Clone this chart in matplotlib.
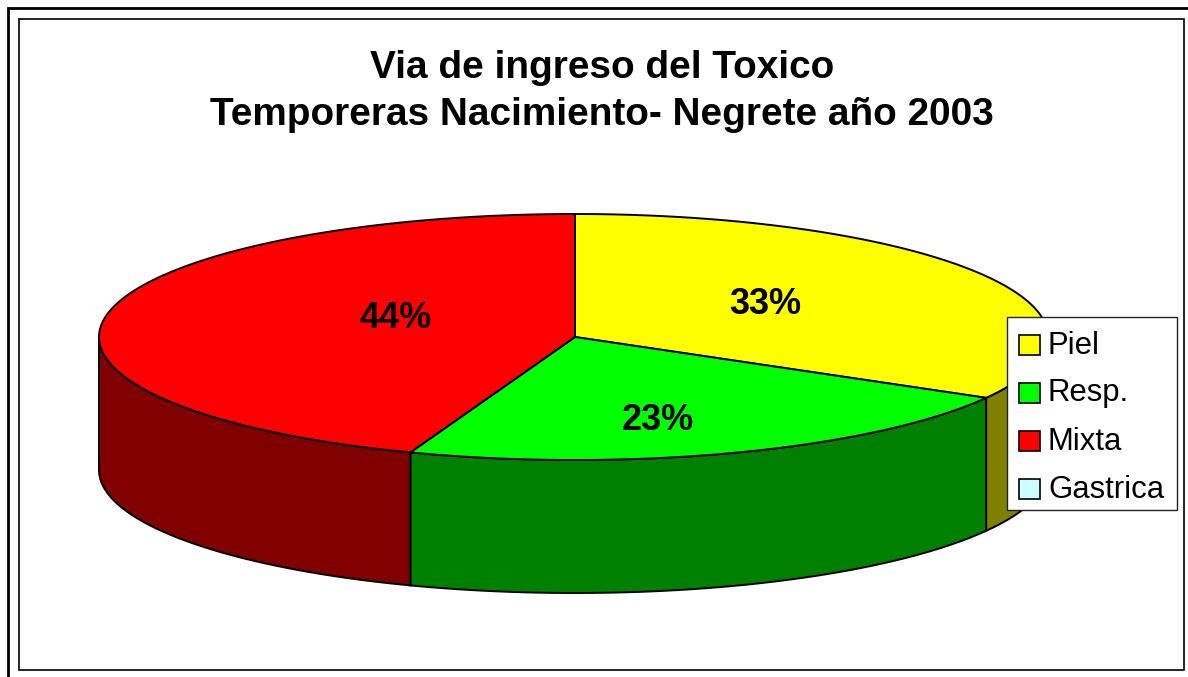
import numpy as np
import matplotlib
matplotlib.use('Agg')
import matplotlib.pyplot as plt
from matplotlib.patches import Polygon, Rectangle

title = 'Via de ingreso del Toxico\nTemporeras Nacimiento- Negrete año 2003'
categories = ['Piel', 'Resp.', 'Mixta', 'Gastrica']
values = [33.4, 22.5, 44.6, 0]
pct_labels = ['33%', '23%', '44%']
top_colors = ['#ffff00', '#00ff00', '#ff0000', '#ccffff']
side_colors = ['#808000', '#008000', '#800000', '#669999']

plt.rcParams['font.family'] = ['Liberation Sans', 'DejaVu Sans']

# work in picture pixels, y going down
fig = plt.figure(figsize=(11.88, 6.77), dpi=100)
ax = fig.add_axes([0, 0, 1, 1])
ax.set_xlim(0, 1188)
ax.set_ylim(677, 0)
ax.axis('off')

cx, cy = 575, 337
rx_left, rx_right = 476, 473
ry = 123
depth = 133
lw = 1.4


def rim(a0, a1):
    t = np.radians(np.linspace(a0, a1, 200))
    s = np.sin(t)
    return cx + np.where(s > 0, rx_right, rx_left) * s, cy - ry * np.cos(t)


# frames
ax.add_patch(Rectangle((8, 8), 1300, 800, fc='white', ec='black', lw=2.0, zorder=0))
ax.add_patch(Rectangle((19, 19), 1165, 651, fc='white', ec='black', lw=1.2, zorder=0.5))

ax.text(602, 91.5, title, ha='center', va='center', fontsize=27.9, fontweight='bold',
        linespacing=1.36, zorder=5)

angles = np.cumsum([0] + values) / sum(values) * 360

# side walls, only the front half of the disc shows
for i in range(len(values)):
    a0, a1 = max(angles[i], 90), min(angles[i + 1], 270)
    if a1 <= a0:
        continue
    x, y = rim(a0, a1)
    pts = np.r_[np.c_[x, y], np.c_[x[::-1], y[::-1] + depth]]
    ax.add_patch(Polygon(pts, closed=True, fc=side_colors[i], ec='black', lw=lw, zorder=1))

# top of the disc
for i in range(len(values)):
    if values[i] == 0:
        continue
    x, y = rim(angles[i], angles[i + 1])
    pts = np.r_[[[cx, cy]], np.c_[x, y]]
    ax.add_patch(Polygon(pts, closed=True, fc=top_colors[i], ec='black', lw=lw, zorder=2))

# percent labels, hand placed like in the original
label_xy = [(765, 304), (658, 420), (396, 318)]
for lab, (lx, ly) in zip(pct_labels, label_xy):
    ax.text(lx, ly, lab, ha='center', va='center', fontsize=26, fontweight='bold', zorder=3)

# legend
ax.add_patch(Rectangle((1007, 316.5), 170, 193.5, fc='white', ec='#222222', lw=1.0, zorder=6))
for i, name in enumerate(categories):
    y = 344.5 + 48 * i
    ax.add_patch(Rectangle((1019, y - 10), 20.5, 20.5, fc=top_colors[i], ec='black', lw=1.2, zorder=7))
    ax.text(1048, y + 9, name, ha='left', va='baseline', fontsize=22.4, zorder=7)

fig.savefig('out.png', dpi=100)
